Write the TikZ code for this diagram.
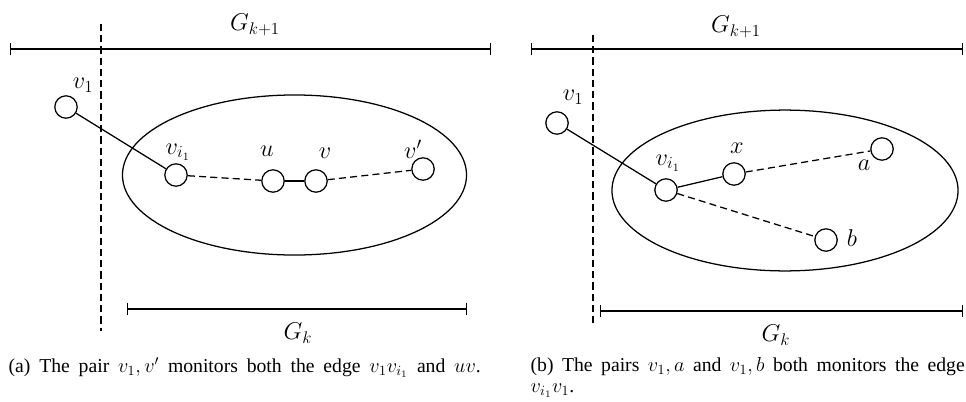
\documentclass[tikz,border=0pt]{standalone}
\usepackage{fontspec}
\usetikzlibrary{arrows.meta}
\newfontfamily\capfont{Liberation Serif}

\begin{document}
\begin{tikzpicture}[
  x=0.025cm, y=-0.025cm, line width=0.9pt,
  font=\fontsize{17}{20}\selectfont,
  vert/.style={draw, circle, minimum size=0.56cm, inner sep=0pt},
  sube/.style={dash pattern=on 5pt off 3pt},
  spanbar/.style={{Bar[width=9pt]}-{Bar[width=9pt]}},
  captext/.style={anchor=north west, inner sep=0pt, align=justify,
    font=\capfont\fontsize{14}{15}\selectfont},
]
  \useasboundingbox (0,0) rectangle (966,401);

  % (a)
  \coordinate (a-top1) at (10,49);  \coordinate (a-top2) at (491,49);
  \coordinate (a-bot1) at (127,309); \coordinate (a-bot2) at (467,309);
  \coordinate (a-cut1) at (101,24); \coordinate (a-cut2) at (101,331);
  \draw[spanbar] (a-top1) -- (a-top2);
  \draw[spanbar] (a-bot1) -- (a-bot2);
  \node (a-gk1) at (255,25) {$G_{k+1}$};
  \node (a-gk) at (298,333) {$G_k$};
  \draw[sube] (a-cut1) -- (a-cut2);
  \draw (294.5,175) ellipse [x radius=4.3cm, y radius=2cm];
  \node[vert] (a-v1) at (66,107) {};
  \node[vert] (a-vi) at (176,175) {};
  \node[vert] (a-u) at (273,181) {};
  \node[vert] (a-v) at (316,181) {};
  \node[vert] (a-vp) at (423,169) {};
  \node at (83,85) {$v_1$};
  \node at (178,152) {$v_{i_1}$};
  \node at (267,151) {$u$};
  \node at (325,153) {$v$};
  \node at (413,149) {$v'$};
  \draw (a-v1) -- (a-vi);
  \draw[sube] (a-vi) -- (a-u);
  \draw (a-u) -- (a-v);
  \draw[sube] (a-v) -- (a-vp);
  \node[captext] (a-cap) at (8,357) {\makebox[11.8cm][s]{(a) The pair $v_1, v'$ monitors both the edge $v_1v_{i_1}$ and $uv$.}};

  % (b)
  \coordinate (b-top1) at (531,49);  \coordinate (b-top2) at (963,49);
  \coordinate (b-bot1) at (600,311); \coordinate (b-bot2) at (963,311);
  \coordinate (b-cut1) at (593,35); \coordinate (b-cut2) at (593,323);
  \draw[spanbar] (b-top1) -- (b-top2);
  \draw[spanbar] (b-bot1) -- (b-bot2);
  \node (b-gk1) at (736,27) {$G_{k+1}$};
  \node (b-gk) at (776,335) {$G_k$};
  \draw[sube] (b-cut1) -- (b-cut2);
  \draw (785,190.5) ellipse [x radius=4.325cm, y radius=2.01cm];
  \node[vert] (b-v1) at (557,123) {};
  \node[vert] (b-vi) at (666,190) {};
  \node[vert] (b-x) at (734,174) {};
  \node[vert] (b-a) at (882,149) {};
  \node[vert] (b-b) at (826,240) {};
  \node at (573,97) {$v_1$};
  \node at (668,163) {$v_{i_1}$};
  \node at (737,148) {$x$};
  \node at (864,165) {$a$};
  \node at (852,238) {$b$};
  \draw (b-v1) -- (b-vi);
  \draw (b-vi) -- (b-x);
  \draw[sube] (b-x) -- (b-a);
  \draw[sube] (b-vi) -- (b-b);
  \node[captext, text width=10.85cm] (b-cap) at (530,357) {(b) The pairs $v_1, a$ and $v_1, b$ both monitors the edge $v_{i_1}v_1$.};
\end{tikzpicture}
\end{document}
